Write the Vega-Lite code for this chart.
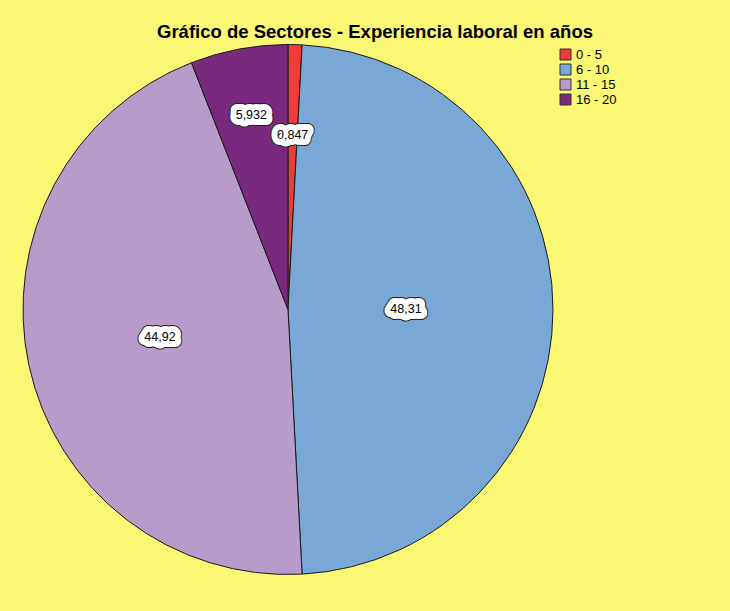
{
  "$schema": "https://vega.github.io/schema/vega-lite/v6.json",
  "width": 558,
  "height": 603,
  "autosize": {"type": "none"},
  "padding": {"left": 9, "top": 8, "right": 163, "bottom": 0},
  "background": "#FAF774",
  "config": {"view": {"stroke": null}, "font": "Liberation Sans"},
  "title": {
    "text": "Gráfico de Sectores - Experiencia laboral en años",
    "font": "Liberation Sans",
    "fontSize": 18.5,
    "fontWeight": "bold",
    "color": "#000000",
    "anchor": "middle",
    "frame": "group",
    "dx": 87,
    "offset": -48,
    "baseline": "alphabetic"
  },
  "data": {
    "values": [
      {"rango": "0 - 5", "valor": 0.847, "etiqueta": "0,847", "orden": 1},
      {"rango": "6 - 10", "valor": 48.31, "etiqueta": "48,31", "orden": 2},
      {"rango": "11 - 15", "valor": 44.92, "etiqueta": "44,92", "orden": 3},
      {"rango": "16 - 20", "valor": 5.932, "etiqueta": "5,932", "orden": 4}
    ]
  },
  "encoding": {
    "theta": {"field": "valor", "type": "quantitative", "stack": true},
    "order": {"field": "orden", "type": "quantitative"}
  },
  "layer": [
    {
      "mark": {"type": "arc", "outerRadius": 265, "stroke": "#1a1a1a", "strokeWidth": 1},
      "encoding": {
        "color": {
          "field": "rango",
          "type": "nominal",
          "scale": {
            "domain": ["0 - 5", "6 - 10", "11 - 15", "16 - 20"],
            "range": ["#EF3B39", "#79A8D6", "#B79BC8", "#7A2A7E"]
          },
          "legend": {
            "title": null,
            "orient": "none",
            "legendX": 550,
            "legendY": 40,
            "symbolType": "square",
            "symbolSize": 121,
            "symbolStrokeColor": "#333333",
            "symbolStrokeWidth": 1,
            "symbolOpacity": 1,
            "labelFontSize": 13,
            "labelFont": "Liberation Sans",
            "labelColor": "#000000",
            "rowPadding": 0,
            "labelOffset": 4,
            "padding": 0
          }
        }
      }
    },
    {
      "mark": {"type": "text", "stroke": "#222222", "strokeWidth": 14, "strokeJoin": "round", "fill": "#222222", "fontSize": 12.5, "font": "Liberation Sans"},
      "encoding": {
        "text": {"field": "etiqueta"},
        "detail": {"field": "rango"},
        "radius": {"field": "valor", "type": "quantitative", "scale": {"type": "linear", "domain": [0.847, 5.932, 44.92, 48.31], "range": [175, 198, 131, 118]}}
      }
    },
    {
      "mark": {"type": "text", "stroke": "#ffffff", "strokeWidth": 12, "strokeJoin": "round", "fill": "#ffffff", "fontSize": 12.5, "font": "Liberation Sans"},
      "encoding": {
        "text": {"field": "etiqueta"},
        "detail": {"field": "rango"},
        "radius": {"field": "valor", "type": "quantitative", "scale": {"type": "linear", "domain": [0.847, 5.932, 44.92, 48.31], "range": [175, 198, 131, 118]}}
      }
    },
    {
      "mark": {"type": "text", "fill": "#000000", "fontSize": 12.5, "font": "Liberation Sans"},
      "encoding": {
        "text": {"field": "etiqueta"},
        "detail": {"field": "rango"},
        "radius": {"field": "valor", "type": "quantitative", "scale": {"type": "linear", "domain": [0.847, 5.932, 44.92, 48.31], "range": [175, 198, 131, 118]}}
      }
    }
  ]
}
